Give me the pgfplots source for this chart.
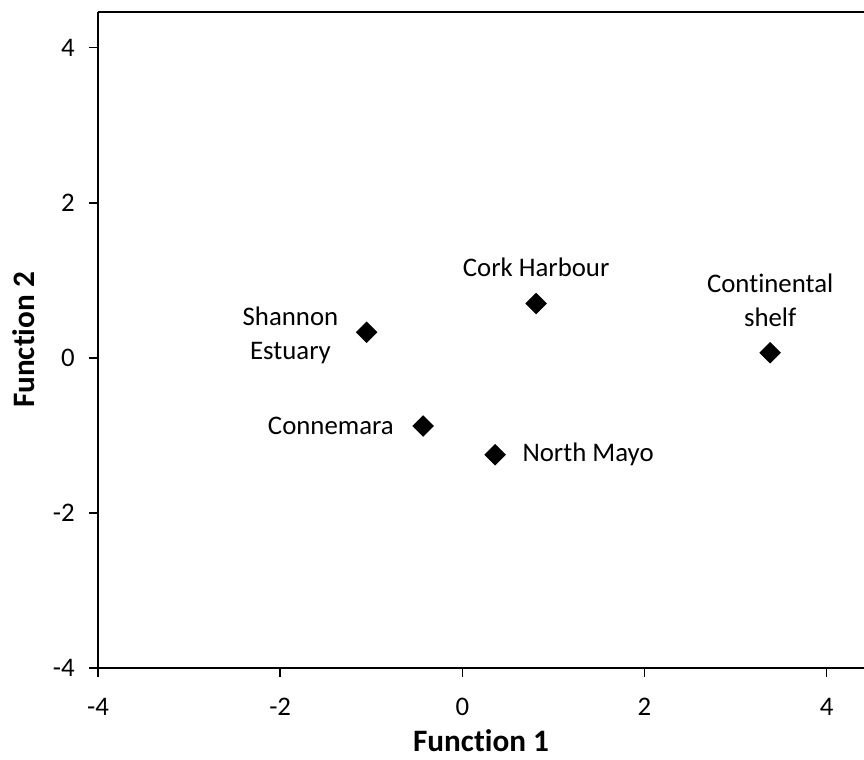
\documentclass[border=0pt]{standalone}
\usepackage{fontspec}
\setmainfont{Carlito}[Ligatures=NoCommon]
\usepackage{pgfplots}
\pgfplotsset{compat=1.18}
\begin{document}
\fontsize{13.4bp}{17bp}\selectfont
\begin{tikzpicture}
\path[use as bounding box] (0,0) rectangle (432bp,380bp);
\begin{axis}[
  at={(49bp,46bp)}, anchor=south west,
  scale only axis, width=383bp, height=328bp,
  xmin=-4, xmax=4.41, ymin=-4, ymax=4.46,
  axis x line*=box, axis y line*=left,
  axis line style={-, line width=0.9bp, black},
  xtick pos=lower, ytick pos=left,
  tick align=outside, major tick length=4.5bp,
  tick style={black, line width=0.8bp},
  xtick={-4,-2,0,2,4}, xticklabels={-4,-2,0,2,4},
  ytick={-4,-2,0,2,4}, yticklabels={-4,-2,0,2,4},
  xticklabel style={yshift=-6bp},
  yticklabel style={xshift=-2.5bp},
  font=\fontsize{13.4bp}{17bp}\selectfont,
  xlabel={Function 1}, ylabel={Function 2},
  label style={font=\fontsize{15.6bp}{18bp}\selectfont\bfseries, inner sep=0pt},
  x label style={at={(axis description cs:0.5,-0.111)}, anchor=center},
  y label style={at={(axis description cs:-0.097,0.5)}, anchor=center, rotate=0},
  clip=false,
  mystyle/.style={only marks, mark=square*, mark size=3.6bp,
     mark options={rotate=45, fill=black, draw=black},
     nodes near coords, point meta=explicit symbolic},
]
\addplot[mystyle, every node near coord/.style={align=center, anchor=east, inner sep=0pt, xshift=-14bp, yshift=-1.5bp}]
  coordinates {(-1.05,0.33) [{Shannon\\Estuary}]};
\addplot[mystyle, every node near coord/.style={align=center, anchor=center, inner sep=0pt, yshift=18bp}]
  coordinates {(0.81,0.70) [Cork Harbour]};
\addplot[mystyle, every node near coord/.style={align=center, anchor=center, inner sep=0pt, yshift=26bp}]
  coordinates {(3.38,0.065) [{Continental\\shelf}]};
\addplot[mystyle, every node near coord/.style={align=center, anchor=east, inner sep=0pt, xshift=-14.5bp}]
  coordinates {(-0.43,-0.88) [Connemara]};
\addplot[mystyle, every node near coord/.style={align=center, anchor=west, inner sep=0pt, xshift=13.5bp}]
  coordinates {(0.36,-1.25) [North Mayo]};
\end{axis}
\end{tikzpicture}
\end{document}
